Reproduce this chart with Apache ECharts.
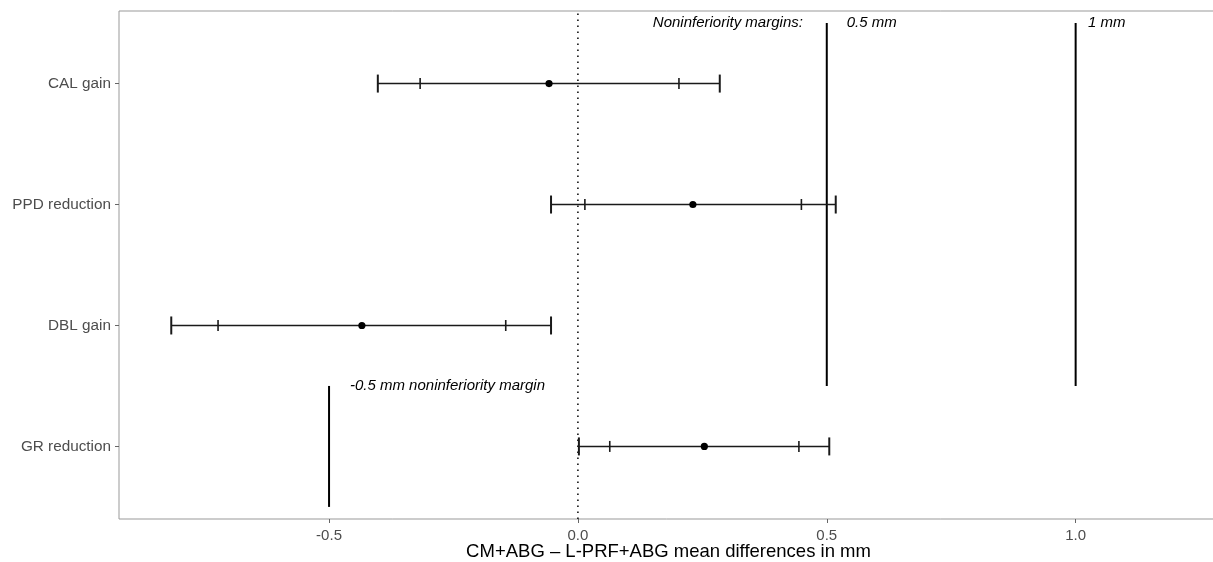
<!DOCTYPE html>
<html>
<head>
<meta charset="utf-8">
<script src="https://cdn.jsdelivr.net/npm/echarts@6/dist/echarts.min.js"></script>
<style>
  html, body { margin: 0; padding: 0; background: #fff; }
  #chart { width: 1213px; height: 562px; }
</style>
</head>
<body>
<div id="chart"></div>
<script>
// outcomes, bottom to top (y position 1..4)
var categories = ['GR reduction', 'DBL gain', 'PPD reduction', 'CAL gain'];
var meanDiff = [0.254, -0.434, 0.231, -0.058];
var lo95 = [0.002, -0.817, -0.054, -0.402];
var hi95 = [0.505, -0.054, 0.518, 0.285];
var lo90 = [0.064, -0.723, 0.014, -0.317];
var hi90 = [0.444, -0.145, 0.449, 0.203];
var xTicks = [-0.5, 0, 0.5, 1];

// noninferiority margin lines: [x, yFrom, yTo]
var margins = [[0.5, 1.5, 4.5], [1, 1.5, 4.5], [-0.5, 0.5, 1.5]];
// annotations: [x, y, text, align]
var notes = [
  [0.452, 4.5, 'Noninferiority margins:', 'right'],
  [0.54, 4.5, '0.5 mm', 'left'],
  [1.025, 4.5, '1 mm', 'left'],
  [-0.458, 1.5, '-0.5 mm noninferiority margin', 'left']
];

var barData = [];
for (var i = 0; i < categories.length; i++) {
  barData.push([i + 1, lo95[i], lo90[i], meanDiff[i], hi90[i], hi95[i]]);
}

var lineColor = '#1a1a1a';

var option = {
  animation: false,
  grid: { left: 119, top: 11, right: -5, bottom: 43, show: true, borderColor: '#999', borderWidth: 1,
    outerBoundsMode: 'none', containLabel: false },
  xAxis: {
    type: 'value', min: -0.922, max: 1.286,
    name: 'CM+ABG \u2013 L-PRF+ABG mean differences in mm',
    nameLocation: 'middle', nameGap: 23, nameMoveOverlap: false,
    nameTextStyle: { color: '#000', fontSize: 18.5, fontFamily: 'Liberation Sans' },
    splitLine: { show: false },
    axisLine: { show: false, onZero: false },
    axisTick: { show: true, length: 4, lineStyle: { color: '#666' }, customValues: xTicks },
    axisLabel: {
      customValues: xTicks, color: '#4d4d4d', fontSize: 15, fontFamily: 'Liberation Sans', margin: 9,
      formatter: function (v) { return v.toFixed(1); }
    }
  },
  yAxis: {
    type: 'value', min: 0.4, max: 4.6,
    splitLine: { show: false },
    axisLine: { show: false, onZero: false },
    axisTick: { show: true, length: 4, lineStyle: { color: '#666' }, customValues: [1, 2, 3, 4] },
    axisLabel: {
      customValues: [1, 2, 3, 4], color: '#4d4d4d', fontSize: 15.3, fontFamily: 'Liberation Sans', margin: 8,
      formatter: function (v) { return categories[Math.round(v) - 1]; }
    }
  },
  series: [
    {
      // dotted zero line
      type: 'line', data: [[0, 0.4], [0, 4.6]], symbol: 'none',
      lineStyle: { color: '#000', width: 1.5, type: [1.5, 4.5] }, z: 1
    },
    {
      type: 'custom',
      data: margins,
      renderItem: function (params, api) {
        var a = api.coord([api.value(0), api.value(1)]);
        var b = api.coord([api.value(0), api.value(2)]);
        return { type: 'line', shape: { x1: a[0], y1: a[1], x2: b[0], y2: b[1] },
          style: { stroke: '#000', lineWidth: 2 } };
      }
    },
    {
      type: 'custom',
      data: barData,
      renderItem: function (params, api) {
        var y = api.value(0);
        var p95a = api.coord([api.value(1), y]);
        var p90a = api.coord([api.value(2), y]);
        var pm = api.coord([api.value(3), y]);
        var p90b = api.coord([api.value(4), y]);
        var p95b = api.coord([api.value(5), y]);
        var st = { stroke: lineColor, lineWidth: 1.6 };
        var cap = function (p, h, w) {
          return { type: 'line', shape: { x1: p[0], y1: p[1] - h, x2: p[0], y2: p[1] + h },
            style: { stroke: lineColor, lineWidth: w } };
        };
        return {
          type: 'group',
          children: [
            { type: 'line', shape: { x1: p95a[0], y1: p95a[1], x2: p95b[0], y2: p95b[1] }, style: st },
            cap(p95a, 9, 2), cap(p95b, 9, 2),
            cap(p90a, 5.5, 1.6), cap(p90b, 5.5, 1.6),
            { type: 'circle', shape: { cx: pm[0], cy: pm[1], r: 3.6 }, style: { fill: '#000' } }
          ]
        };
      }
    },
    {
      type: 'custom',
      data: notes,
      renderItem: function (params, api) {
        var n = notes[params.dataIndex];
        var p = api.coord([n[0], n[1]]);
        return { type: 'text', x: p[0], y: p[1],
          style: { text: n[2], align: n[3], verticalAlign: 'middle', fill: '#000',
            font: 'italic 15px "Liberation Sans"' } };
      }
    }
  ]
};

var myChart = echarts.init(document.getElementById('chart'));
myChart.setOption(option);
</script>
</body>
</html>
